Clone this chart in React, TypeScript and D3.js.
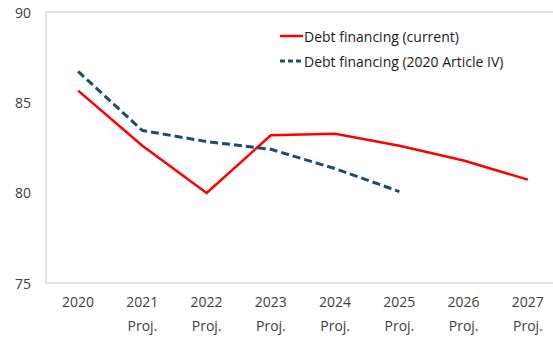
import React from "react";
import * as d3 from "d3";

const years = ["2020", "2021", "2022", "2023", "2024", "2025", "2026", "2027"];
const subLabels = ["", "Proj.", "Proj.", "Proj.", "Proj.", "Proj.", "Proj.", "Proj."];
const current = [85.65, 82.6, 79.98, 83.18, 83.26, 82.6, 81.78, 80.72];
const article4 = [86.71, 83.44, 82.83, 82.4, 81.33, 80.06];
const yTicks = [75, 80, 85, 90];
const seriesNames = ["Debt financing (current)", "Debt financing (2020 Article IV)"];

const W = 553, H = 337;
const left = 46, right = 560, top = 12, bottom = 283;
const font = "'Open Sans', 'DejaVu Sans', sans-serif";
const fs = 14;

export default function App() {
  const x = d3.scaleBand<string>().domain(years).range([left, right]);
  const y = d3.scaleLinear().domain([75, 90]).range([bottom, top]);
  const cx = (i: number) => (x(years[i]) as number) + x.bandwidth() / 2;
  const line = d3.line<number>().x((_, i) => cx(i)).y((d) => y(d));

  return (
    <svg width={W} height={H} style={{ position: "absolute", left: 0, top: 0, background: "#fff" }}>
      <rect x={left} y={top} width={right - left} height={bottom - top} fill="none" stroke="#c8c8c8" strokeWidth={1} />
      {yTicks.map((t) => (
        <text key={t} x={31} y={y(t)} textAnchor="end" dominantBaseline="central" fontFamily={font} fontSize={fs} fill="#404040">
          {t}
        </text>
      ))}
      {years.map((yr, i) => (
        <g key={yr}>
          <text x={cx(i)} y={301} textAnchor="middle" dominantBaseline="central" fontFamily={font} fontSize={fs} fill="#404040">
            {yr}
          </text>
          {subLabels[i] && (
            <text x={cx(i)} y={325} textAnchor="middle" dominantBaseline="central" fontFamily={font} fontSize={fs} fill="#404040">
              {subLabels[i]}
            </text>
          )}
        </g>
      ))}
      <path d={line(current) || ""} fill="none" stroke="#ff0000" strokeWidth={2.5} strokeLinejoin="round" />
      <path d={line(article4) || ""} fill="none" stroke="#1f497d" strokeWidth={3} strokeDasharray="8,4" strokeLinejoin="round" />
      <line x1={280} x2={303} y1={36} y2={36} stroke="#ff0000" strokeWidth={2.5} />
      <text x={304} y={36} dominantBaseline="central" fontFamily={font} fontSize={fs} fill="#1a1a1a">{seriesNames[0]}</text>
      <line x1={280} x2={303} y1={61} y2={61} stroke="#1f497d" strokeWidth={3} strokeDasharray="5,3" />
      <text x={304} y={61} dominantBaseline="central" fontFamily={font} fontSize={fs} fill="#1a1a1a">{seriesNames[1]}</text>
    </svg>
  );
}
